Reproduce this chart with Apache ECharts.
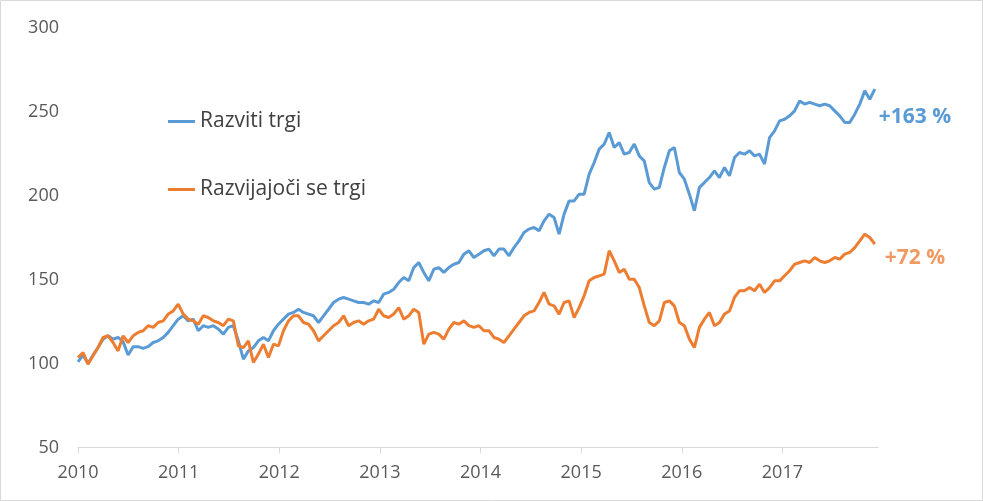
<!DOCTYPE html>
<html lang="sl">
<head>
    <meta charset="UTF-8">
    <title>Razviti in razvijajoči se trgi</title>
    <script src="https://cdn.jsdelivr.net/npm/echarts@6/dist/echarts.min.js"></script>
    <style>
        html, body { margin: 0; padding: 0; background: #fff; }
        #ec { width: 983px; height: 501px; }
    </style>
</head>
<body>
<div id="ec"></div>
<script>
    // sampling grid: one point every ~2.6 weeks from start of 2010
    var startYear = 2010;
    var stepYear = 0.0498;
    var yearTicks = [2010, 2011, 2012, 2013, 2014, 2015, 2016, 2017];
    var seriesNames = ['Razviti trgi', 'Razvijajoči se trgi'];
    var endLabels = ['+163 %', '+72 %'];

    var developed = [
        101, 105, 100, 105, 109.5, 114.5, 116.5, 114.5, 115.5, 113, 105, 110, 110, 109, 110, 112.5, 113.5, 115.5, 118.5, 122.5, 126.4,
        128.4, 125.4, 126.4, 119.5, 122.5, 121.5, 122.5, 120.5, 117.5, 121.5, 122.5, 113.5, 102.6, 107.5, 109.5, 113.5, 115.5, 113.5, 119.5, 123.4,
        126.4, 129.4, 130.4, 132.3, 130.4, 129.4, 128.4, 124.4, 128.4, 132.3, 136.3, 138.3, 139.3, 138.3, 137.3, 136.3, 136.3, 135.3, 137.3, 136.3,
        141.3, 142.3, 144.2, 148.2, 151.2, 149.2, 157.1, 160.1, 154.2, 149.2, 156.1, 157.1, 154.2, 157.1, 159.1, 160.1, 165.1, 167.1, 163.1, 165.1,
        167.1, 168.1, 164.1, 168.1, 168.1, 164.1, 169, 173, 178, 180, 181, 179, 184.9, 188.9, 186.9, 177, 188.9, 196.8, 196.8, 200.8,
        200.8, 212.7, 219.6, 227.6, 230.6, 237.5, 228.6, 231.5, 224.6, 225.6, 230.6, 223.6, 220.6, 207.7, 203.8, 204.8, 216.7, 226.6, 228.6, 213.7,
        209.7, 200.8, 190.9, 204.8, 207.7, 210.7, 214.7, 210.7, 216.7, 211.7, 222.6, 225.6, 224.6, 226.6, 223.6, 224.6, 218.7, 234.5, 238.5, 244.4,
        245.4, 247.4, 250.4, 256.3, 254.4, 255.4, 254.4, 253.4, 254.4, 253.4, 250.4, 247.4, 243.5, 243.5, 248.4, 254.4, 262.3, 257.3, 263.3
    ];
    var emerging = [
        103.6, 106.5, 99.6, 104.6, 109.5, 115.5, 116.5, 112.5, 107.5, 116.5, 112.5, 116.5, 118.5, 119.5, 122.5, 121.5, 124.4, 125.4, 129.4, 131.3, 135.3,
        129.4, 126.4, 125.4, 123.4, 128.4, 127.4, 125.4, 124.4, 122.5, 126.4, 125.4, 110.5, 109.5, 113.5, 100.6, 105.6, 111.5, 103.6, 111.5, 110.5,
        119.5, 125.4, 128.4, 128.4, 124.4, 123.4, 119.5, 113.5, 116.5, 119.5, 122.5, 124.4, 128.4, 122.5, 124.4, 125.4, 123.4, 125.4, 126.4, 132.3,
        128.4, 127.4, 129.4, 133.3, 126.4, 128.4, 132.3, 130.4, 111.5, 117.5, 118.5, 117.5, 114.5, 120.5, 124.4, 123.4, 125.4, 122.5, 121.5, 122.5,
        119.5, 119.5, 115.5, 114.5, 112.5, 116.5, 120.5, 124.4, 128.4, 130.4, 131.3, 136.3, 142.3, 135.3, 134.3, 129.4, 136.3, 137.3, 127.4, 133.3,
        140.3, 149.2, 151.2, 152.2, 153.2, 167.1, 161.1, 154.2, 156.1, 150.2, 150.2, 145.2, 134.3, 124.4, 122.5, 125.4, 136.3, 137.3, 134.3, 124.4,
        122.5, 114.5, 109.5, 121.5, 126.4, 130.4, 122.5, 124.4, 129.4, 131.3, 139.3, 143.3, 143.3, 145.2, 143.3, 147.2, 142.3, 145.2, 149.2, 149.2,
        152.2, 155.2, 159.1, 160.1, 161.1, 160.1, 163.1, 161.1, 160.1, 161.1, 163.1, 162.1, 165.1, 166.1, 169, 173, 177, 175, 171
    ];

    function pairs(values) {
        return values.map(function (v, i) {
            return [startYear + i * stepYear, v];
        });
    }

    var myChart = echarts.init(document.getElementById('ec'));
    myChart.setOption({
        animation: false,
        textStyle: { fontFamily: 'Open Sans' },
        graphic: [{
            type: 'rect',
            shape: { x: 0.5, y: 0.5, width: 982, height: 500 },
            style: { fill: 'none', stroke: '#D9D9D9', lineWidth: 1 },
            silent: true
        }],
        grid: { left: 78, right: 105, top: 27.5, bottom: 53.5 },
        legend: {
            orient: 'vertical',
            left: 163,
            top: 105,
            itemWidth: 27,
            itemHeight: 3,
            itemGap: 45,
            icon: 'rect',
            textStyle: { color: '#404040', fontSize: 21, lineHeight: 23 },
            data: seriesNames
        },
        xAxis: {
            type: 'value',
            min: 2010,
            max: 2017.95,
            axisLine: { lineStyle: { color: '#D9D9D9', width: 1 } },
            axisTick: {
                show: true,
                length: 6,
                lineStyle: { color: '#D9D9D9' },
                customValues: yearTicks
            },
            axisLabel: {
                color: '#595959',
                fontSize: 18,
                margin: 16,
                customValues: yearTicks,
                formatter: function (v) { return String(v); }
            },
            splitLine: { show: false }
        },
        yAxis: {
            type: 'value',
            min: 50,
            max: 300,
            interval: 50,
            axisLine: { show: false },
            axisTick: { show: false },
            axisLabel: { color: '#595959', fontSize: 18, margin: 19 },
            splitLine: { show: false }
        },
        series: [
            {
                name: seriesNames[0],
                type: 'line',
                data: pairs(developed),
                showSymbol: false,
                symbol: 'none',
                color: '#5B9BD5',
                lineStyle: { width: 3, color: '#5B9BD5' },
                emphasis: { disabled: true },
                endLabel: {
                    show: true,
                    formatter: endLabels[0],
                    color: '#5B9BD5',
                    fontSize: 21,
                    fontWeight: 'bold',
                    distance: 4,
                    offset: [0, 28]
                }
            },
            {
                name: seriesNames[1],
                type: 'line',
                data: pairs(emerging),
                showSymbol: false,
                symbol: 'none',
                color: '#ED7D31',
                lineStyle: { width: 3, color: '#ED7D31' },
                emphasis: { disabled: true },
                endLabel: {
                    show: true,
                    formatter: endLabels[1],
                    color: '#EF9A62',
                    fontSize: 21,
                    fontWeight: 'bold',
                    distance: 10,
                    offset: [0, 14]
                }
            }
        ]
    });
</script>
</body>
</html>
